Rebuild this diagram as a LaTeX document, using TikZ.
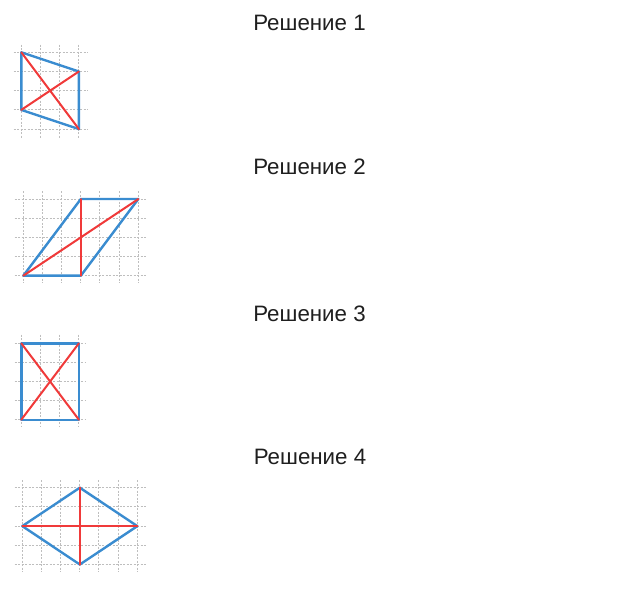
\documentclass[tikz,border=0pt]{standalone}
\usepackage{fontspec}
\setmainfont{Liberation Sans}
\definecolor{figblue}{RGB}{58,140,208}
\definecolor{figred}{RGB}{240,58,58}
\definecolor{gridgray}{RGB}{190,190,190}
\tikzset{
  gridline/.style={gridgray, line width=1pt, dash pattern=on 2pt off 1.5pt},
  blueline/.style={figblue, line width=2.4pt, line join=round, line cap=round},
  redline/.style={figred, line width=2pt, line cap=round},
  title/.style={font=\fontsize{22.3}{26}\selectfont, text=black!88, anchor=base, inner sep=0pt}
}
\begin{document}
\begin{tikzpicture}[x=1pt,y=-1pt]
\useasboundingbox (0,0) rectangle (617,600);
\fill[white] (0,0) rectangle (617,600);
% Titles
\node[title] (t1) at (309.5,30) {Решение 1};
\node[title] (t2) at (309.5,174.3) {Решение 2};
\node[title] (t3) at (309.5,321) {Решение 3};
\node[title] (t4) at (310,464.3) {Решение 4};

% Figure 1
\begin{scope}[shift={(21.3,52.3)}, x=19.2pt, y=-19.2pt]
  \foreach \i in {0,...,3} \draw[gridline] (\i,-0.4) -- (\i,4.45);
  \foreach \j in {0,...,4} \draw[gridline] (-0.4,\j) -- (3.45,\j);
  \coordinate (a1) at (0,0);
  \coordinate (b1) at (3,1);
  \coordinate (c1) at (3,4);
  \coordinate (d1) at (0,3);
  \draw[blueline] (a1) -- (b1) -- (c1) -- (d1) -- cycle;
  \draw[redline] (a1) -- (c1);
  \draw[redline] (b1) -- (d1);
\end{scope}

% Figure 2
\begin{scope}[shift={(23.3,199)}, x=19.17pt, y=-19.17pt]
  \foreach \i in {0,...,6} \draw[gridline] (\i,-0.4) -- (\i,4.4);
  \foreach \j in {0,...,4} \draw[gridline] (-0.45,\j) -- (6.45,\j);
  \coordinate (a2) at (0,4);
  \coordinate (b2) at (3,4);
  \coordinate (c2) at (6,0);
  \coordinate (d2) at (3,0);
  \draw[blueline] (a2) -- (b2) -- (c2) -- (d2) -- cycle;
  \draw[redline] (a2) -- (c2);
  \draw[redline] (d2) -- (b2);
\end{scope}

% Figure 3
\begin{scope}[shift={(21.3,343.3)}, x=19.2pt, y=-19.1pt]
  \foreach \i in {0,...,3} \draw[gridline] (\i,-0.45) -- (\i,4.4);
  \foreach \j in {0,...,4} \draw[gridline] (-0.35,\j) -- (3.35,\j);
  \coordinate (a3) at (0,0);
  \coordinate (b3) at (3,0);
  \coordinate (c3) at (3,4);
  \coordinate (d3) at (0,4);
  \draw[blueline] (a3) -- (b3) -- (c3) -- (d3) -- cycle;
  \draw[redline] (a3) -- (c3);
  \draw[redline] (b3) -- (d3);
\end{scope}

% Figure 4
\begin{scope}[shift={(22.3,487.7)}, x=19.17pt, y=-19.2pt]
  \foreach \i in {0,...,6} \draw[gridline] (\i,-0.4) -- (\i,4.35);
  \foreach \j in {0,...,4} \draw[gridline] (-0.4,\j) -- (6.5,\j);
  \coordinate (a4) at (0,2);
  \coordinate (b4) at (3,0);
  \coordinate (c4) at (6,2);
  \coordinate (d4) at (3,4);
  \draw[blueline] (a4) -- (b4) -- (c4) -- (d4) -- cycle;
  \draw[redline] (a4) -- (c4);
  \draw[redline] (b4) -- (d4);
\end{scope}
\end{tikzpicture}
\end{document}
